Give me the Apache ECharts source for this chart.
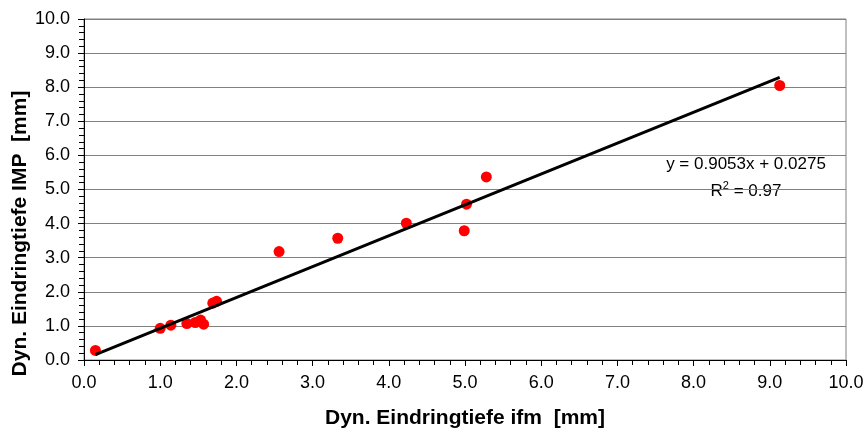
<!DOCTYPE html>
<html>
<head>
<meta charset="utf-8">
<script src="https://cdn.jsdelivr.net/npm/echarts@6/dist/echarts.min.js"></script>
<style>
  html, body { margin: 0; padding: 0; background: #fff; }
  #main { width: 867px; height: 432px; }
</style>
</head>
<body>
<div id="main"></div>
<script>
// Messpunkte: ifm (x) gegen IMP (y), in mm
var ifmWerte = [0.15, 1.00, 1.14, 1.35, 1.46, 1.53, 1.57, 1.69, 1.74, 2.56, 3.33, 4.23, 4.99, 5.02, 5.28, 9.13];
var impWerte = [0.28, 0.93, 1.02, 1.07, 1.10, 1.17, 1.05, 1.67, 1.72, 3.18, 3.57, 4.01, 3.79, 4.57, 5.37, 8.05];
// Trendlinie (Anfangs- und Endpunkt aus dem Bild)
var trendX = [0.15, 9.13];
var trendY = [0.16, 8.29];
var gleichung = 'y = 0.9053x + 0.0275';
var bestimmtheit = '0.97';

var punkte = ifmWerte.map(function (x, i) { return [x, impWerte[i]]; });
var trend = trendX.map(function (x, i) { return [x, trendY[i]]; });

var chart = echarts.init(document.getElementById('main'));
var schrift = 'Arial, "Liberation Sans", sans-serif';

var achse = function (name, gap, groesse) {
    return {
        type: 'value',
        min: 0, max: 10, interval: 1,
        name: name,
        nameLocation: 'middle',
        nameGap: gap,
        nameMoveOverlap: false,
        nameTextStyle: { fontFamily: schrift, fontSize: groesse, fontWeight: 'bold', color: '#000' },
        axisLine: { show: true, onZero: false, lineStyle: { color: '#000', width: 1 } },
        axisTick: { show: true, length: 6, lineStyle: { color: '#000' } },
        minorTick: { show: true, splitNumber: 5, length: 5, lineStyle: { color: '#000' } },
        axisLabel: {
            fontFamily: schrift, fontSize: 18, color: '#000', margin: 14,
            formatter: function (v) { return v.toFixed(1); }
        },
        splitLine: { show: false }
    };
};

var xAchse = achse('Dyn. Eindringtiefe ifm  [mm]', 48, 21);
var yAchse = achse('Dyn. Eindringtiefe IMP  [mm]', 53, 21);
yAchse.splitLine = { show: true, lineStyle: { color: '#808080', width: 1 } };
yAchse.nameTextStyle.padding = [0, 88, 0, 0];

var option = {
    animation: false,
    backgroundColor: '#fff',
    grid: {
        left: 84, right: 21, top: 19, bottom: 72,
        outerBoundsMode: 'none',
        show: true, borderColor: '#808080', borderWidth: 1
    },
    xAxis: xAchse,
    yAxis: yAchse,
    series: [
        {
            type: 'scatter',
            data: punkte,
            symbol: 'circle',
            symbolSize: 11,
            itemStyle: { color: '#ff0000', opacity: 1 },
            z: 3
        },
        {
            type: 'line',
            data: trend,
            showSymbol: false,
            lineStyle: { color: '#000', width: 3 },
            z: 4
        }
    ],
    graphic: [
        {
            type: 'text',
            x: 746, y: 164,
            style: {
                text: gleichung,
                fontFamily: schrift, fontSize: 17, fill: '#000',
                align: 'center', verticalAlign: 'middle'
            }
        },
        {
            type: 'text',
            x: 746, y: 190,
            style: {
                text: '{r|R}{s|2}{r| = ' + bestimmtheit + '}',
                align: 'center', verticalAlign: 'middle',
                rich: {
                    r: { fontFamily: schrift, fontSize: 17, fill: '#000', verticalAlign: 'bottom' },
                    s: { fontFamily: schrift, fontSize: 11, fill: '#000', verticalAlign: 'top', padding: [0, 0, 8, 0] }
                }
            }
        }
    ]
};
chart.setOption(option);
</script>
</body>
</html>
